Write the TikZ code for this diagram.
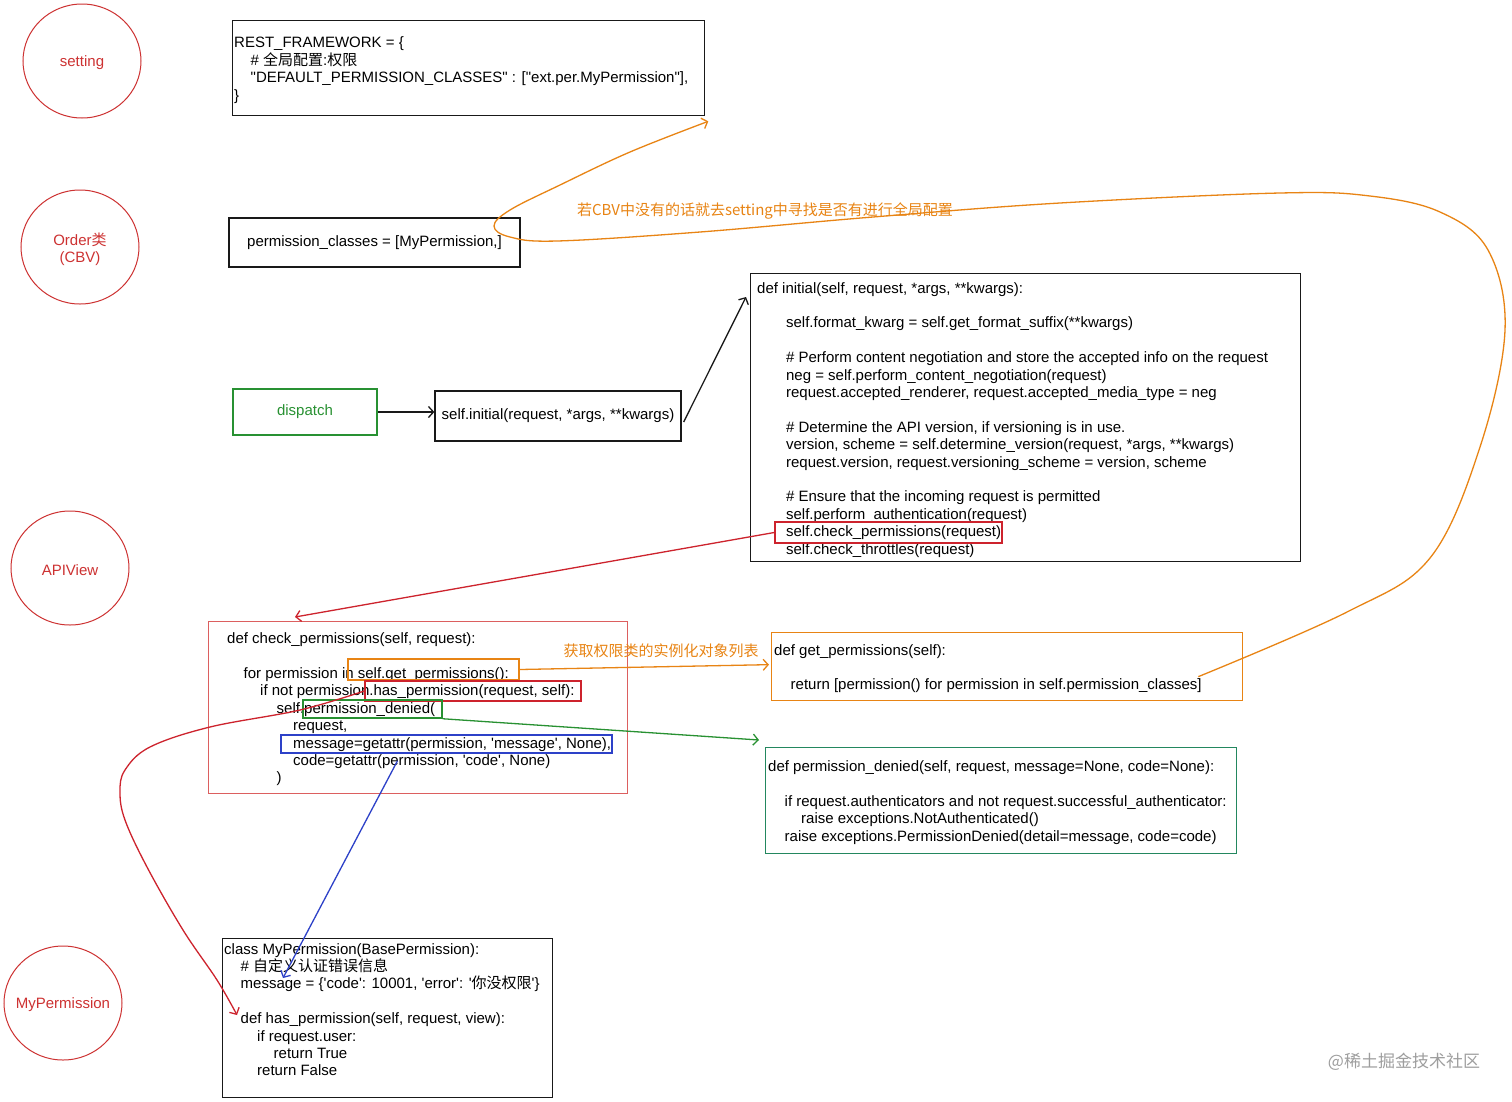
\documentclass[tikz,border=0pt]{standalone}
\usepackage{fontspec}
\newfontfamily\arial{Liberation Sans}
\newfontfamily\cjk{Noto Sans CJK SC}
\usetikzlibrary{arrows.meta,shapes.geometric}

\definecolor{tagred}{RGB}{205,50,50}
\definecolor{boxred}{RGB}{220,95,95}
\definecolor{hlred}{RGB}{205,35,45}
\definecolor{hlorange}{RGB}{232,132,20}
\definecolor{hlgreen}{RGB}{40,145,50}
\definecolor{hlblue}{RGB}{45,65,200}
\definecolor{denygreen}{RGB}{35,135,95}
\definecolor{linegray}{RGB}{25,25,25}

\newlength\indw
\setlength\indw{16.5pt}
\newcommand{\code}{\arial\fontsize{15}{17.4}\selectfont}
\newcommand{\pyind}[1][1]{\hspace*{#1\indw}}
\newcommand{\cjknote}{\cjk\fontsize{15}{18}\selectfont}

\tikzset{
  tag/.style={ellipse, draw=tagred, line width=1pt, inner sep=0pt,
    minimum width=118pt, minimum height=114pt},
  tagtext/.style={text=tagred, align=center, yshift=-2pt},
  codebox/.style={draw=linegray, line width=1.3pt, anchor=north west, inner sep=0pt},
  codetext/.style={anchor=west, align=left, inner sep=0pt, yshift=-2pt},
  plainbox/.style={draw=linegray, line width=1.3pt, inner sep=0pt},
  hl/.style={draw, line width=1.5pt, inner sep=0pt},
  link/.style={line width=1.3pt, -{Straight Barb[length=5pt,width=11pt]}},
}

\begin{document}
\begin{tikzpicture}[x=1pt, y=-1pt, font=\code]
    % canvas 1512 x 1101, y grows downwards
    \fill[white] (0,0) rectangle (1512,1101);
    \useasboundingbox (0,0) rectangle (1512,1101);

    % Class tags on the left
    \foreach \nm/\lbl/\cx/\cy in {setting/setting/82/61,
        order/{Order{\cjk 类}\\(CBV)}/80/247,
        apiview/APIView/70/568, myperm/MyPermission/63/1003}{
        \node[tag, label={[tagtext]center:\lbl}] (\nm) at (\cx,\cy) {};
    }

    % settings.py
    \node[codebox, minimum width=472, minimum height=95] (rest) at (232,20) {};
    \node[codetext] (rest-txt) at ([xshift=2pt]rest.west) {REST\_FRAMEWORK = \{\\
        \pyind\# {\cjk 全局配置}:{\cjk 权限}\\
        \pyind"DEFAULT\_PERMISSION\_CLASSES" : ["ext.per.MyPermission"],\\
        \}};

    % CBV attribute
    \node[plainbox, minimum width=291, minimum height=49] (permcls) at (374.5,242.5)
        {permission\_classes = [MyPermission,]};

    % dispatch -> initial
    \node[plainbox, draw=hlgreen, text=hlgreen, line width=1.8pt,
        minimum width=144, minimum height=46] (dispatch) at (305,412) {dispatch};
    \node[plainbox, minimum width=246, minimum height=50] (initcall) at (558,416)
        {self.initial(request, *args, **kwargs)};

    % APIView.initial
    \node[codebox, minimum width=550, minimum height=288] (initial) at (750,273) {};
    \node[codetext] (initial-txt) at ([xshift=7pt]initial.west) {def initial(self, request, *args, **kwargs):\\[17.4pt]
        \pyind[1.75]self.format\_kwarg = self.get\_format\_suffix(**kwargs)\\[17.4pt]
        \pyind[1.75]\# Perform content negotiation and store the accepted info on the request\\
        \pyind[1.75]neg = self.perform\_content\_negotiation(request)\\
        \pyind[1.75]request.accepted\_renderer, request.accepted\_media\_type = neg\\[17.4pt]
        \pyind[1.75]\# Determine the API version, if versioning is in use.\\
        \pyind[1.75]version, scheme = self.determine\_version(request, *args, **kwargs)\\
        \pyind[1.75]request.version, request.versioning\_scheme = version, scheme\\[17.4pt]
        \pyind[1.75]\# Ensure that the incoming request is permitted\\
        \pyind[1.75]self.perform\_authentication(request)\\
        \pyind[1.75]self.check\_permissions(request)\\
        \pyind[1.75]self.check\_throttles(request)};

    % APIView.check_permissions
    \node[codebox, draw=boxred, line width=1pt, minimum width=419, minimum height=172] (checkperm) at (208,621) {};
    \node[codetext] (checkperm-txt) at ([xshift=19pt]checkperm.west) {def check\_permissions(self, request):\\[17.4pt]
        \pyind for permission in self.get\_permissions():\\
        \pyind[2]if not permission.has\_permission(request, self):\\
        \pyind[3]self.permission\_denied(\\
        \pyind[4]request,\\
        \pyind[4]message=getattr(permission, 'message', None),\\
        \pyind[4]code=getattr(permission, 'code', None)\\
        \pyind[3])};

    % APIView.get_permissions
    \node[codebox, draw=hlorange, minimum width=471, minimum height=68] (getperm) at (771,632) {};
    \node[codetext] (getperm-txt) at ([xshift=3pt]getperm.west) {def get\_permissions(self):\\[17.4pt]
        \pyind return [permission() for permission in self.permission\_classes]};

    % APIView.permission_denied
    \node[codebox, draw=denygreen, minimum width=471, minimum height=106] (denied) at (765,747) {};
    \node[codetext] (denied-txt) at ([xshift=3pt]denied.west) {def permission\_denied(self, request, message=None, code=None):\\[17.4pt]
        \pyind if request.authenticators and not request.successful\_authenticator:\\
        \pyind[2]raise exceptions.NotAuthenticated()\\
        \pyind raise exceptions.PermissionDenied(detail=message, code=code)};

    % custom permission class
    \node[codebox, minimum width=330, minimum height=159] (mypermbox) at (222,938) {};
    \node[codetext] (mypermbox-txt) at ([xshift=2pt,yshift=10.5pt]mypermbox.west) {class MyPermission(BasePermission):\\
        \pyind\# {\cjk 自定义认证错误信息}\\
        \pyind message = \{'code': 10001, 'error': '{\cjk 你没权限}'\}\\[17.4pt]
        \pyind def has\_permission(self, request, view):\\
        \pyind[2]if request.user:\\
        \pyind[3]return True\\
        \pyind[2]return False};

    % Highlight frames: name/colour/centre/size
    \foreach \nm/\clr/\cx/\cy/\w/\h in {hlcheck/hlred/888.5/532.5/227/21,
        hlget/hlorange/433.5/669.5/171/21, hlhas/hlred/473/691/216/20,
        hldenied/hlgreen/372.5/709/139/18, hlmsg/hlblue/446.5/744/331/18}{
        \node[hl, draw=\clr, minimum width=\w, minimum height=\h] (\nm) at (\cx,\cy) {};
    }

    % Notes
    \node[text=hlorange, font=\cjknote] (cbvnote) at (765,211) {若CBV中没有的话就去setting中寻找是否有进行全局配置};
    \node[text=hlorange, font=\cjknote] (getnote) at (661,651) {获取权限类的实例化对象列表};
    \node[text=black!38, font=\cjk\fontsize{17}{20}\selectfont] (mark) at (1404,1062) {@稀土掘金技术社区};

    % Call flow
    \draw[link, linegray] (dispatch.east) -- (dispatch.east -| initcall.west);
    \draw[link, linegray] ([xshift=2pt,yshift=-6pt]initcall.east) -- ([xshift=-4pt,yshift=-24pt]initial.north west);
    \draw[link, hlred] (hlcheck.west) -- ([xshift=87pt,yshift=4pt]checkperm.north west);
    \draw[link, hlorange] (hlget.east) -- ([xshift=-2pt,yshift=2pt]getperm.west);
    \draw[link, hlgreen] (hldenied.south east) -- ([xshift=-6pt,yshift=7pt]denied.north west);
    \draw[link, hlblue] ([xshift=-49pt,yshift=-7pt]hlmsg.south) -- ([xshift=61pt,yshift=-40pt]mypermbox.north west);

    % has_permission -> MyPermission.has_permission
    \coordinate (has-tip) at ([xshift=15pt,yshift=-77pt]mypermbox.north west);
    \draw[link, hlred] plot[smooth, tension=0.6] coordinates {(hlhas.west) (300,710) (210,727)
        (150,747) (125,770) (120,792) (125,820) (147,867) (183,930) (217,980) (has-tip)};

    % permission_classes -> global setting
    \coordinate (gp-tail) at ([xshift=-45pt,yshift=-10pt]getperm.east);
    \coordinate (rest-tip) at ([xshift=3pt,yshift=-5pt]rest.south east);
    \draw[link, hlorange] plot[smooth, tension=0.6] coordinates {(gp-tail) (1347,612) (1430,558)
        (1480,447) (1505,330) (1488,250) (1440,212) (1370,196) (1280,193) (1060,203) (873,217)
        (700,232) (557,241) (510,237) (494,226) (510,210) (560,185) (630,152) (rest-tip)};
\end{tikzpicture}
\end{document}
